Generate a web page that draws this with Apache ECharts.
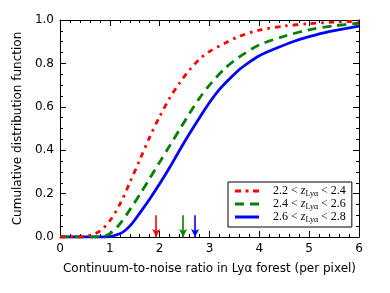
<!DOCTYPE html>
<html><head><meta charset="utf-8">
<script src="https://cdn.jsdelivr.net/npm/echarts@6/dist/echarts.min.js"></script>
<style>html,body{margin:0;padding:0;background:#fff}#c{width:390px;height:293px}</style>
</head><body><div id="c"></div>
<script>
// Data
const redX   = [0, 0.4, 0.6, 0.8, 1.0, 1.2, 1.4, 1.6, 1.8, 2.0, 2.2, 2.4, 2.6, 2.8, 3.0, 3.3, 3.6, 4.0, 4.5, 5.0, 5.5, 6.0];
const redY   = [0, 0.0, 0.008, 0.027, 0.075, 0.15, 0.25, 0.355, 0.46, 0.555, 0.64, 0.71, 0.77, 0.82, 0.855, 0.892, 0.925, 0.953, 0.972, 0.983, 0.99, 0.995];
const greenX = [0, 0.8, 1.0, 1.2, 1.4, 1.6, 1.8, 2.0, 2.2, 2.4, 2.6, 2.8, 3.0, 3.3, 3.6, 4.0, 4.5, 5.0, 5.5, 6.0];
const greenY = [0, 0.0, 0.015, 0.06, 0.125, 0.195, 0.27, 0.345, 0.42, 0.495, 0.57, 0.64, 0.70, 0.775, 0.83, 0.885, 0.925, 0.955, 0.973, 0.985];
const blueX  = [0, 0.9, 1.2, 1.4, 1.6, 1.8, 2.0, 2.2, 2.4, 2.6, 2.8, 3.0, 3.2, 3.4, 3.6, 3.8, 4.0, 4.3, 4.7, 5.0, 5.4, 6.0];
const blueY  = [0, 0.0, 0.015, 0.05, 0.11, 0.175, 0.245, 0.32, 0.40, 0.477, 0.55, 0.62, 0.68, 0.728, 0.772, 0.806, 0.835, 0.866, 0.902, 0.923, 0.946, 0.972];
const arrowX = [1.93, 2.47, 2.71];
const arrowTop = 0.1;
const seriesNames = ['2.2 < z < 2.4', '2.4 < z < 2.6', '2.6 < z < 2.8'];
const rangeLo = ['2.2', '2.4', '2.6'];
const rangeHi = ['2.4', '2.6', '2.8'];
const colors = ['#ff0000', '#008000', '#0000ff'];
const xTicks = [0, 1, 2, 3, 4, 5, 6];
const yTicks = [0.0, 0.2, 0.4, 0.6, 0.8, 1.0];

const pairs = (xs, ys) => xs.map((x, i) => [x, ys[i]]);
const xsList = [redX, greenX, blueX];
const ysList = [redY, greenY, blueY];
const dashTypes = [[5.5, 5, 2.5, 5], [9, 6], 'solid'];
const legendIcons = [
  'path://M0,0h6v3h-6z M10.5,0h3v3h-3z M18,0h6v3h-6z',
  'path://M0,0h9v3h-9z M15,0h9v3h-9z',
  'path://M0,0h24v3h-24z'
];

const axisCommon = {
  type: 'value',
  axisLine: { show: true, onZero: false, lineStyle: { color: '#000', width: 1 } },
  axisTick: { show: true, inside: true, length: 6, lineStyle: { color: '#000' } },
  minorTick: { show: true, length: 3, lineStyle: { color: '#000' } },
  splitLine: { show: false },
  minorSplitLine: { show: false }
};

const chart = echarts.init(document.getElementById('c'), null, { renderer: 'canvas' });
chart.setOption({
  animation: false,
  backgroundColor: '#fff',
  grid: { left: 60, right: 31, top: 20, bottom: 56, containLabel: false },
  xAxis: [
    Object.assign({}, axisCommon, {
      position: 'bottom', min: 0, max: 6, interval: 1,
      minorTick: Object.assign({}, axisCommon.minorTick, { splitNumber: 5 }),
      axisLabel: { color: '#000', fontSize: 12, fontFamily: 'DejaVu Sans', margin: 6,
        formatter: v => xTicks.includes(v) ? String(v) : '' },
      name: 'Continuum-to-noise ratio in Ly\u03b1 forest (per pixel)',
      nameLocation: 'middle', nameGap: 26,
      nameTextStyle: { color: '#000', fontSize: 12, fontFamily: 'DejaVu Sans' }
    }),
    Object.assign({}, axisCommon, {
      position: 'top', min: 0, max: 6, interval: 1,
      minorTick: Object.assign({}, axisCommon.minorTick, { splitNumber: 5 }),
      axisLabel: { show: false }
    })
  ],
  yAxis: [
    Object.assign({}, axisCommon, {
      position: 'left', min: 0, max: 1, interval: 0.2,
      minorTick: Object.assign({}, axisCommon.minorTick, { splitNumber: 4 }),
      axisLabel: { color: '#000', fontSize: 12, fontFamily: 'DejaVu Sans', margin: 6,
        formatter: v => yTicks.some(t => Math.abs(t - v) < 1e-9) ? v.toFixed(1) : '' },
      name: 'Cumulative distribution function',
      nameLocation: 'middle', nameGap: 33,
      nameTextStyle: { color: '#000', fontSize: 12, fontFamily: 'DejaVu Sans' }
    }),
    Object.assign({}, axisCommon, {
      position: 'right', min: 0, max: 1, interval: 0.2,
      minorTick: Object.assign({}, axisCommon.minorTick, { splitNumber: 4 }),
      axisLabel: { show: false }
    })
  ],
  legend: {
    show: true,
    orient: 'vertical',
    left: 228, top: 182,
    padding: [3, 6, 3, 7],
    itemGap: 0,
    itemWidth: 24, itemHeight: 3,
    borderColor: '#000', borderWidth: 1, borderRadius: 0,
    backgroundColor: '#fff',
    itemStyle: { borderWidth: 0 },
    data: seriesNames.map((n, i) => ({ name: n, icon: legendIcons[i], itemStyle: { color: colors[i], borderWidth: 0 } })),
    formatter: name => {
      const i = seriesNames.indexOf(name);
      return '{n|' + rangeLo[i] + ' < }{i|z}{s|Ly\u03b1}{n| < ' + rangeHi[i] + '}';
    },
    textStyle: {
      padding: [0, 0, 0, 9],
      rich: {
        n: { fontFamily: 'Liberation Serif', fontSize: 12, color: '#000', lineHeight: 14 },
        i: { fontFamily: 'Liberation Serif', fontStyle: 'italic', fontSize: 12, color: '#000', lineHeight: 14 },
        s: { fontFamily: 'Liberation Serif', fontSize: 8, color: '#000', verticalAlign: 'bottom', lineHeight: 14, padding: [5, 0, 0, 0] }
      }
    }
  },
  series: seriesNames.map((n, i) => ({
    name: n,
    type: 'line',
    xAxisIndex: 0, yAxisIndex: 0,
    data: pairs(xsList[i], ysList[i]),
    smooth: 0.3,
    showSymbol: false,
    symbol: 'none',
    color: colors[i],
    lineStyle: { color: colors[i], width: 2.8, type: dashTypes[i] },
    z: 3 - i,
    markLine: {
      silent: true,
      symbol: ['none', 'arrow'],
      symbolSize: [6, 8],
      label: { show: false },
      lineStyle: { color: colors[i], width: 1.6, type: 'solid' },
      data: [[{ coord: [arrowX[i], arrowTop] }, { coord: [arrowX[i], 0] }]]
    }
  }))
});
</script></body></html>
